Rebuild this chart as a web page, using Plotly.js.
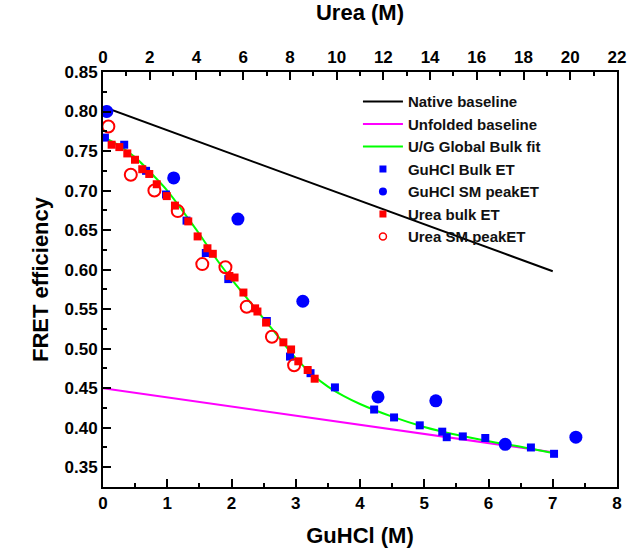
<!DOCTYPE html>
<html>
<head>
<meta charset="utf-8">
<script src="https://cdn.plot.ly/plotly-3.0.1.min.js"></script>
<style>html,body{margin:0;padding:0;background:#fff;}#chart{width:627px;height:548px;}</style>
</head>
<body>
<div id="chart"></div>
<script>
// Baselines (GuHCl, M)
const nativeX = [0, 7];
const nativeY = [0.806, 0.598];
const unfoldedX = [0, 7];
const unfoldedY = [0.450, 0.369];

// Global bulk fit curve (GuHCl, M)
const fitX = [0, 0.25, 0.5, 0.75, 1.0, 1.25, 1.5, 1.75, 2.0, 2.25, 2.5, 2.75, 3.0, 3.25, 3.5, 3.75, 4.0, 4.5, 5.0, 5.5, 6.0, 6.5, 7.0];
const fitY = [0.768, 0.757, 0.742, 0.722, 0.700, 0.673, 0.645, 0.615, 0.588, 0.563, 0.538, 0.513, 0.488, 0.468, 0.452, 0.440, 0.430, 0.414, 0.401, 0.391, 0.383, 0.376, 0.368];

// GuHCl bulk ET (squares)
const guBulkX = [0.03, 0.33, 0.67, 0.98, 1.30, 1.60, 1.95, 2.55, 2.91, 3.23, 3.61, 4.22, 4.53, 4.93, 5.28, 5.35, 5.60, 5.95, 6.66, 7.02];
const guBulkY = [0.767, 0.758, 0.725, 0.695, 0.662, 0.621, 0.588, 0.535, 0.490, 0.469, 0.451, 0.423, 0.413, 0.403, 0.395, 0.388, 0.389, 0.387, 0.375, 0.367];

// GuHCl SM peak ET (filled circles)
const guSMX = [0.06, 1.10, 2.10, 3.11, 4.28, 5.18, 6.26, 7.36];
const guSMY = [0.800, 0.716, 0.664, 0.560, 0.439, 0.434, 0.379, 0.388];

// Urea bulk ET (squares, urea M)
const ureaBulkX = [0.37, 0.70, 1.04, 1.37, 1.68, 1.98, 2.30, 2.73, 3.08, 3.65, 4.05, 4.47, 4.70, 5.41, 5.63, 6.01, 6.51, 6.61, 6.98, 7.72, 8.05, 8.36, 8.76, 9.06];
const ureaBulkY = [0.758, 0.755, 0.747, 0.739, 0.727, 0.721, 0.708, 0.693, 0.681, 0.661, 0.642, 0.627, 0.620, 0.592, 0.590, 0.571, 0.551, 0.547, 0.533, 0.508, 0.499, 0.484, 0.473, 0.462];

// Urea SM peak ET (open circles, urea M)
const ureaSMX = [0.23, 1.19, 2.20, 3.20, 4.25, 5.24, 6.15, 7.23, 8.18];
const ureaSMY = [0.781, 0.720, 0.700, 0.674, 0.607, 0.603, 0.553, 0.515, 0.479];

const seriesNames = ['Native baseline', 'Unfolded baseline', 'U/G Global Bulk fit', 'GuHCl Bulk ET', 'GuHCl SM peakET', 'Urea bulk ET', 'Urea SM peakET'];

const FONT = 'Liberation Sans, Arial, Helvetica, sans-serif';

const data = [
  {x: nativeX, y: nativeY, name: seriesNames[0], mode: 'lines', line: {color: '#000000', width: 2}, xaxis: 'x', yaxis: 'y', legendrank: 1},
  {x: unfoldedX, y: unfoldedY, name: seriesNames[1], mode: 'lines', line: {color: '#FF00FF', width: 2}, xaxis: 'x', yaxis: 'y', legendrank: 2},
  {x: fitX, y: fitY, name: seriesNames[2], mode: 'lines', line: {color: '#00FF00', width: 2, shape: 'spline'}, xaxis: 'x', yaxis: 'y', legendrank: 3},
  {x: guBulkX, y: guBulkY, name: seriesNames[3], mode: 'markers', marker: {symbol: 'square', color: '#0000FF', size: 8}, xaxis: 'x', yaxis: 'y', showlegend: false},
  {x: guSMX, y: guSMY, name: seriesNames[4], mode: 'markers', marker: {symbol: 'circle', color: '#0000FF', size: 13}, xaxis: 'x', yaxis: 'y', showlegend: false},
  {x: ureaBulkX, y: ureaBulkY, name: seriesNames[5], mode: 'markers', marker: {symbol: 'square', color: '#FF0000', size: 8}, xaxis: 'x2', yaxis: 'y', showlegend: false},
  {x: ureaSMX, y: ureaSMY, name: seriesNames[6], mode: 'markers', marker: {symbol: 'circle-open', color: '#FF0000', size: 12, line: {width: 2, color: '#FF0000'}}, xaxis: 'x2', yaxis: 'y', showlegend: false},
  // legend-only entries with the small key symbols used in the reference legend
  {x: [null], y: [null], name: seriesNames[3], mode: 'markers', marker: {symbol: 'square', color: '#0000FF', size: 7}, xaxis: 'x', yaxis: 'y', legendrank: 4, hoverinfo: 'skip'},
  {x: [null], y: [null], name: seriesNames[4], mode: 'markers', marker: {symbol: 'circle', color: '#0000FF', size: 8}, xaxis: 'x', yaxis: 'y', legendrank: 5, hoverinfo: 'skip'},
  {x: [null], y: [null], name: seriesNames[5], mode: 'markers', marker: {symbol: 'square', color: '#FF0000', size: 7}, xaxis: 'x', yaxis: 'y', legendrank: 6, hoverinfo: 'skip'},
  {x: [null], y: [null], name: seriesNames[6], mode: 'markers', marker: {symbol: 'circle-open', color: '#FF0000', size: 7, line: {width: 1.5, color: '#FF0000'}}, xaxis: 'x', yaxis: 'y', legendrank: 7, hoverinfo: 'skip'}
];

const tickFont = {family: FONT, size: 17, color: '#000', weight: 'bold'};
const titleFont = {family: FONT, size: 22, color: '#000', weight: 'bold'};

const layout = {
  width: 627, height: 548,
  margin: {l: 103, r: 10, t: 72, b: 61},
  paper_bgcolor: '#fff', plot_bgcolor: '#fff',
  showlegend: true,
  legend: {x: 0.496, y: 0.968, xanchor: 'left', yanchor: 'top', bgcolor: 'rgba(0,0,0,0)', borderwidth: 0,
           font: {family: FONT, size: 15, color: '#111', weight: 'bold'}, tracegroupgap: 0, itemwidth: 40, traceorder: 'normal'},
  xaxis: {
    range: [0, 8], dtick: 1, tick0: 0, showgrid: false, zeroline: false,
    showline: true, linecolor: '#000', linewidth: 2, mirror: false, automargin: false,
    ticks: 'inside', ticklen: 8, tickwidth: 2, tickcolor: '#000',
    minor: {dtick: 0.5, ticks: 'inside', ticklen: 4, tickwidth: 2, tickcolor: '#000', showgrid: false},
    tickfont: tickFont,
    title: {text: 'GuHCl (M)', font: titleFont}
  },
  xaxis2: {
    range: [0, 22], dtick: 2, tick0: 0, overlaying: 'x', side: 'top', anchor: 'y', automargin: false,
    showgrid: false, zeroline: false,
    showline: true, linecolor: '#000', linewidth: 2,
    ticks: 'inside', ticklen: 8, tickwidth: 2, tickcolor: '#000',
    minor: {dtick: 1, ticks: 'inside', ticklen: 4, tickwidth: 2, tickcolor: '#000', showgrid: false},
    tickfont: tickFont,
    title: {text: 'Urea (M)', font: titleFont}
  },
  yaxis: {
    range: [0.325, 0.85], dtick: 0.05, tick0: 0.35, tickformat: '.2f', showgrid: false, zeroline: false,
    showline: true, linecolor: '#000', linewidth: 2, mirror: true, automargin: false,
    ticks: 'inside', ticklen: 8, tickwidth: 2, tickcolor: '#000',
    minor: {dtick: 0.025, ticks: 'inside', ticklen: 4, tickwidth: 2, tickcolor: '#000', showgrid: false},
    tickfont: tickFont,
    title: {text: 'FRET efficiency', font: titleFont}
  }
};

Plotly.newPlot('chart', data, layout, {displayModeBar: false, staticPlot: true});
</script>
</body>
</html>
